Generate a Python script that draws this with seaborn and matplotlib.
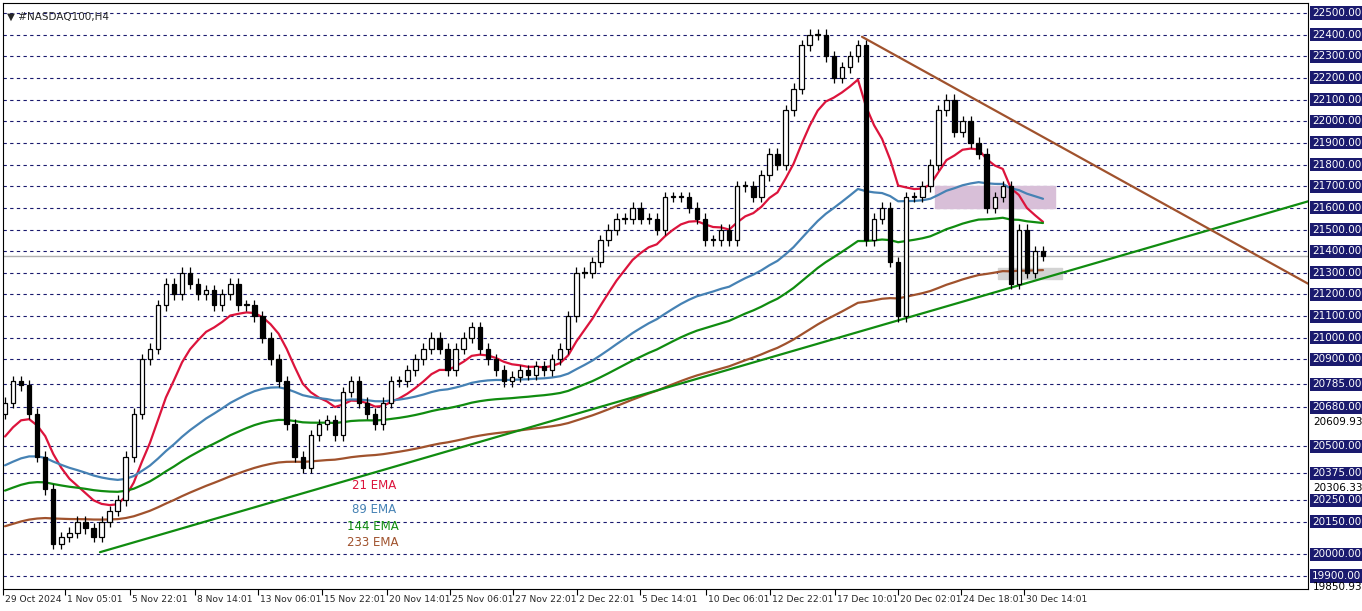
import matplotlib
matplotlib.use("Agg")
import matplotlib.pyplot as plt
import seaborn as sns
import numpy as np
import pandas as pd

closes = [20700, 20800, 20780, 20650, 20450, 20300, 20050, 20080, 20100, 20150, 20120, 20080,
          20150, 20200, 20250, 20450, 20650, 20900, 20950, 21150, 21250, 21200, 21300,
          21250, 21200, 21220, 21150, 21200, 21250, 21150, 21150, 21100, 21000,
          20900, 20800, 20600, 20450, 20400,
          20550, 20600, 20620, 20550, 20750, 20800, 20700, 20650, 20600, 20700, 20800,
          20800, 20850, 20900, 20950, 21000, 20950, 20850,
          20950, 21000, 21050, 20950, 20900, 20850, 20800,
          20820, 20850, 20830, 20870,
          20850, 20900, 20950, 21100, 21300, 21300, 21350, 21450,
          21500, 21550, 21550, 21600, 21550, 21550, 21500, 21650,
          21650, 21650, 21600, 21550, 21450, 21450, 21500, 21450,
          21700, 21700, 21650, 21750, 21850, 21800,
          22050, 22150, 22350, 22400, 22400, 22300, 22200, 22250, 22300, 22350,
          21450, 21550, 21600, 21350, 21100, 21650, 21650, 21700, 21800, 22050, 22100,
          21950, 22000, 21900, 21850, 21600, 21650, 21700, 21250, 21500, 21300, 21400, 21380]
open_first = 20650
wick = 25  # pts

ema_specs = [("21 EMA", 11, 20513, "#dc143c"),
             ("89 EMA", 45, 20398, "#4682b4"),
             ("144 EMA", 72, 20283, "#108c10"),
             ("233 EMA", 117, 20120, "#a0522d")]

levels = [22500, 22400, 22300, 22200, 22100, 22000, 21900, 21800, 21700, 21600, 21500,
          21400, 21300, 21200, 21100, 21000, 20900, 20785, 20680, 20500, 20375, 20250,
          20150, 20000, 19900]
plain_levels = [20609.93, 20306.33, 19850.93]

date_labels = ["29 Oct 2024", "1 Nov 05:01", "5 Nov 22:01", "8 Nov 14:01", "13 Nov 06:01",
               "15 Nov 22:01", "20 Nov 14:01", "25 Nov 06:01", "27 Nov 22:01", "2 Dec 22:01",
               "5 Dec 14:01", "10 Dec 06:01", "12 Dec 22:01", "17 Dec 10:01", "20 Dec 02:01",
               "24 Dec 18:01", "30 Dec 14:01"]
date_px = [3, 65, 130, 195, 258, 322, 387, 450, 513, 577, 640, 706, 770, 835, 898, 961, 1024]

# trend lines and zones given in chart pixels (x) / price (y)
support_line = ([100, 1308], [20010, 21630])
resist_line = ([862, 1308], [22390, 21250])
purple_zone = (935, 1055, 21600, 21700)
grey_zone = (998, 1062, 21272, 21320)

N = len(closes)
s = 1038 / (N - 1)   # px per candle, first candle at x=5, last at x=1043


def px(x):
    return (np.asarray(x, dtype=float) - 5) / s


df = pd.DataFrame({"i": np.arange(N), "close": closes})
df["open"] = [open_first] + closes[:-1]

sns.set_style("white")
fig = plt.figure(figsize=(13.62, 6.11), dpi=100)
ax = fig.add_axes([3 / 1362, 22 / 611, 1305 / 1362, 586 / 611])

for lv in levels:
    ax.axhline(lv, color="#1a1a6e", ls=(0, (3, 3)), lw=0.8, zorder=0)

for z, col in [(purple_zone, "#d8bfd8"), (grey_zone, "#d3d3d3")]:
    x0, x1 = px([z[0], z[1]])
    ax.add_patch(plt.Rectangle((x0, z[2]), x1 - x0, z[3] - z[2], color=col, zorder=1))

for name, span, seed, col in ema_specs:
    vals = []
    e = seed
    a = 2 / (span + 1)
    for c in closes:
        e = e + a * (c - e)
        vals.append(e)
    sns.lineplot(x=df["i"], y=vals, color=col, lw=1.6, ax=ax, zorder=3)

ax.plot(px(support_line[0]), support_line[1], color="#108c10", lw=1.6, zorder=3)
ax.plot(px(resist_line[0]), resist_line[1], color="#a0522d", lw=1.6, zorder=3)

for _, r in df.iterrows():
    lo, hi = min(r.open, r.close), max(r.open, r.close)
    ax.vlines(r.i, lo - wick, hi + wick, color="black", lw=0.9, zorder=4)
    up = r.close >= r.open
    ax.bar(r.i, max(hi - lo, 4), bottom=lo, width=0.55, color="white" if up else "black",
           edgecolor="black", lw=0.9, zorder=5)

ax.axhline(closes[-1], color="#b0b0b0", lw=1, zorder=2)

ax.set_xlim(px(3), px(1308))
ax.set_ylim(19840, 22546)
ax.set_xlabel("")
ax.set_ylabel("")
ax.set_xticks(px(date_px))
ax.set_xticklabels([])
ax.tick_params(axis="x", bottom=True, length=4, width=0.8, color="black")
ax.set_yticks([])
for sp in ax.spines.values():
    sp.set_color("black")

for lab, p in zip(date_labels, date_px):
    ax.text(px(p + 2), 19840 - 30, lab, ha="left", va="top", fontsize=6.6, clip_on=False)

for lv in levels:
    ax.text(1.003, (lv - 19840) / (22546 - 19840), f"{lv:.2f}", transform=ax.transAxes,
            va="center", ha="left", fontsize=7.5, color="white",
            bbox=dict(boxstyle="square,pad=0.15", fc="#1a1a6e", ec="none"))
for lv in plain_levels:
    ax.text(1.004, (lv - 19840) / (22546 - 19840), f"{lv:.2f}", transform=ax.transAxes,
            va="center", ha="left", fontsize=7.5, color="black")

ax.text(0.003, 0.985, "▼ #NASDAQ100,H4", transform=ax.transAxes, fontsize=7.5, va="top")

for (name, _, _, col), y, xp in zip(ema_specs, [20300, 20190, 20112, 20040], [352, 352, 347, 347]):
    ax.text(px(xp), y, name, color=col, fontsize=8.5)

fig.savefig("out.png", dpi=100)
